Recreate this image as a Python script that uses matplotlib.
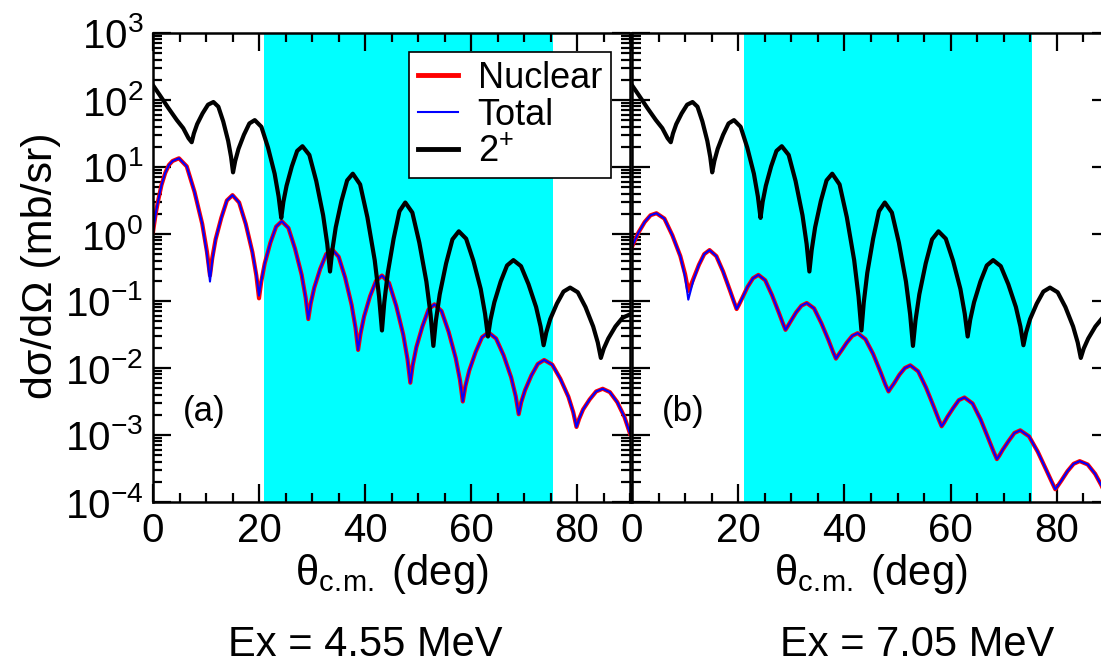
import matplotlib
matplotlib.use('Agg')
import matplotlib.pyplot as plt
from matplotlib.lines import Line2D
from matplotlib.ticker import MultipleLocator, LogLocator, NullFormatter
import numpy as np

# angles in degrees, cross sections stored as log10(dsigma/dOmega [mb/sr])
theta_2plus = [0, 1.3, 2.9, 4.5, 5.7, 6.7, 7.3, 7.71, 8.33, 9.35, 10.38, 11.4,
               12.33, 13.25, 14.18, 14.73, 15.1, 15.51, 16.13, 17.15, 18.18, 19.2,
               20.45, 21.7, 22.95, 23.7, 24.2, 24.6, 25.2, 26.2, 27.2, 28.2,
               29.5, 30.8, 32.1, 32.88, 33.4, 33.83, 34.48, 35.55, 36.63, 37.7,
               39.08, 40.45, 41.83, 42.65, 43.2, 43.64, 44.3, 45.4, 46.5, 47.6,
               48.93, 50.25, 51.58, 52.37, 52.9, 53.38, 54.1, 55.3, 56.5, 57.7,
               59.08, 60.45, 61.83, 62.65, 63.2, 63.68, 64.4, 65.6, 66.8, 68.0,
               69.43, 70.85, 72.28, 73.13, 73.7, 74.2, 74.95, 76.2, 77.45, 78.7,
               80.15, 81.6, 83.05, 83.92, 84.5, 85.05, 85.9, 87.25, 88.6, 90]
log_2plus = [2.22, 2.07, 1.88, 1.70, 1.58, 1.43, 1.37, 1.50, 1.64, 1.80, 1.93, 1.97,
             1.90, 1.68, 1.39, 1.15, 0.92, 1.09, 1.27, 1.48, 1.65, 1.70,
             1.60, 1.29, 0.90, 0.56, 0.24, 0.48, 0.72, 1.01, 1.24, 1.31,
             1.18, 0.79, 0.28, -0.15, -0.56, -0.24, 0.10, 0.49, 0.80, 0.90,
             0.74, 0.25, -0.39, -0.93, -1.44, -1.02, -0.58, -0.07, 0.34, 0.47,
             0.32, -0.13, -0.71, -1.20, -1.67, -1.29, -0.90, -0.44, -0.08, 0.04,
             -0.07, -0.40, -0.82, -1.19, -1.53, -1.28, -1.02, -0.71, -0.47, -0.39,
             -0.48, -0.75, -1.09, -1.38, -1.66, -1.47, -1.27, -1.04, -0.86, -0.80,
             -0.87, -1.09, -1.38, -1.62, -1.85, -1.71, -1.56, -1.38, -1.25, -1.20]

# Ex = 4.55 MeV
theta_a = [0, 0.5, 1.0, 1.6, 2.3, 3.0, 3.7, 4.9, 6.36, 7.83, 9.29, 10.17, 10.75,
           11.18, 11.81, 12.88, 13.94, 15.0, 16.25, 17.5, 18.75, 19.5, 20.0,
           20.43, 21.08, 22.15, 23.23, 24.3, 25.55, 26.8, 28.05, 28.8, 29.3,
           29.75, 30.43, 31.55, 32.68, 33.8, 35.03, 36.25, 37.48, 38.21, 38.7,
           39.15, 39.83, 40.95, 42.08, 43.2, 44.54, 45.88, 47.21, 48.02, 48.55,
           49.0, 49.69, 50.83, 51.96, 53.1, 54.44, 55.78, 57.11, 57.92, 58.45,
           58.94, 59.66, 60.88, 62.09, 63.3, 64.73, 66.15, 67.58, 68.43, 69.0,
           69.48, 70.2, 71.4, 72.6, 73.8, 75.33, 76.85, 78.38, 79.29, 79.9,
           80.4, 81.14, 82.38, 83.61, 84.85, 86.2, 87.6, 88.95, 90]
nuclear_a = [0.03, 0.30, 0.51, 0.73, 0.91, 1.03, 1.09, 1.13, 1.01, 0.63, 0.15, -0.26, -0.62,
             -0.36, -0.08, 0.24, 0.50, 0.58, 0.47, 0.15, -0.27, -0.62, -0.96,
             -0.71, -0.44, -0.13, 0.11, 0.19, 0.09, -0.22, -0.61, -0.95, -1.27,
             -1.04, -0.80, -0.52, -0.30, -0.23, -0.34, -0.65, -1.06, -1.40, -1.73,
             -1.49, -1.23, -0.93, -0.70, -0.62, -0.73, -1.07, -1.50, -1.87, -2.22,
             -1.96, -1.69, -1.38, -1.13, -1.05, -1.15, -1.46, -1.85, -2.18, -2.50,
             -2.27, -2.04, -1.76, -1.54, -1.47, -1.56, -1.81, -2.14, -2.42, -2.69,
             -2.51, -2.33, -2.11, -1.94, -1.88, -1.95, -2.16, -2.43, -2.66, -2.88,
             -2.76, -2.62, -2.47, -2.35, -2.31, -2.36, -2.51, -2.73, -2.98]
total_a = [0.03, 0.30, 0.51, 0.73, 0.91, 1.03, 1.09, 1.13, 1.01, 0.63, 0.15, -0.30, -0.71,
           -0.40, -0.08, 0.24, 0.50, 0.58, 0.47, 0.15, -0.27, -0.61, -0.92,
           -0.70, -0.44, -0.13, 0.11, 0.19, 0.09, -0.22, -0.61, -0.95, -1.27,
           -1.04, -0.80, -0.52, -0.30, -0.23, -0.34, -0.65, -1.06, -1.40, -1.73,
           -1.49, -1.23, -0.93, -0.70, -0.62, -0.73, -1.07, -1.50, -1.87, -2.22,
           -1.96, -1.69, -1.38, -1.13, -1.05, -1.15, -1.46, -1.85, -2.18, -2.50,
           -2.27, -2.04, -1.76, -1.54, -1.47, -1.56, -1.81, -2.14, -2.42, -2.69,
           -2.51, -2.33, -2.11, -1.94, -1.88, -1.95, -2.16, -2.43, -2.66, -2.88,
           -2.76, -2.62, -2.47, -2.35, -2.31, -2.36, -2.51, -2.73, -2.98]

# Ex = 7.05 MeV
theta_b = [0, 1.2, 2.4, 3.5, 4.6, 6.1, 7.6, 9.1, 10.0, 10.6, 11.0, 11.6, 12.6, 13.6, 14.6,
           15.88, 17.15, 18.43, 19.19, 19.7, 20.11, 20.73, 21.75, 22.78, 23.8,
           25.08, 26.35, 27.63, 28.39, 28.9, 29.3, 29.9, 30.9, 31.9, 32.9,
           34.28, 35.65, 37.03, 37.85, 38.4, 38.81, 39.43, 40.45, 41.48, 42.5,
           43.95, 45.4, 46.85, 47.72, 48.3, 48.71, 49.33, 50.35, 51.38, 52.4,
           53.88, 55.35, 56.83, 57.71, 58.3, 58.73, 59.38, 60.45, 61.53, 62.6,
           64.13, 65.65, 67.18, 68.09, 68.7, 69.14, 69.8, 70.9, 72.0, 73.1,
           74.75, 76.4, 78.05, 79.04, 79.7, 80.16, 80.85, 82.0, 83.15, 84.3,
           85.8, 87.2, 88.3, 89.3, 90]
nuclear_b = [-0.19, 0.02, 0.18, 0.28, 0.31, 0.23, -0.02, -0.33, -0.60, -0.85, -0.78, -0.66, -0.46, -0.30, -0.24,
             -0.33, -0.56, -0.84, -1.01, -1.12, -1.06, -0.96, -0.79, -0.66, -0.61,
             -0.69, -0.91, -1.17, -1.33, -1.43, -1.38, -1.30, -1.17, -1.07, -1.03,
             -1.11, -1.33, -1.59, -1.76, -1.86, -1.81, -1.74, -1.62, -1.52, -1.48,
             -1.57, -1.79, -2.07, -2.25, -2.35, -2.30, -2.23, -2.10, -2.00, -1.96,
             -2.05, -2.29, -2.58, -2.76, -2.87, -2.82, -2.73, -2.60, -2.48, -2.44,
             -2.53, -2.77, -3.07, -3.25, -3.36, -3.31, -3.22, -3.09, -2.97, -2.93,
             -3.02, -3.25, -3.53, -3.70, -3.81, -3.76, -3.68, -3.54, -3.43, -3.39,
             -3.44, -3.58, -3.74, -3.90, -4.0]
total_b = [-0.19, 0.02, 0.18, 0.28, 0.31, 0.23, -0.02, -0.33, -0.64, -0.98, -0.86, -0.68, -0.46, -0.30, -0.24,
           -0.33, -0.56, -0.84, -1.01, -1.12, -1.06, -0.96, -0.79, -0.66, -0.61,
           -0.69, -0.91, -1.17, -1.33, -1.43, -1.38, -1.30, -1.17, -1.07, -1.03,
           -1.11, -1.33, -1.59, -1.76, -1.86, -1.81, -1.74, -1.62, -1.52, -1.48,
           -1.57, -1.79, -2.07, -2.25, -2.35, -2.30, -2.23, -2.10, -2.00, -1.96,
           -2.05, -2.29, -2.58, -2.76, -2.87, -2.82, -2.73, -2.60, -2.48, -2.44,
           -2.53, -2.77, -3.07, -3.25, -3.36, -3.31, -3.22, -3.09, -2.97, -2.93,
           -3.02, -3.25, -3.53, -3.70, -3.81, -3.76, -3.68, -3.54, -3.43, -3.39,
           -3.44, -3.58, -3.74, -3.90, -4.0]

window = (21.0, 75.4)   # shaded angular range
panel_tags = ['(a)', '(b)']
energies = ['Ex = 4.55 MeV', 'Ex = 7.05 MeV']

plt.rcParams['font.family'] = ['Liberation Sans', 'DejaVu Sans']
plt.rcParams['mathtext.fontset'] = 'custom'
plt.rcParams['mathtext.rm'] = 'Liberation Sans'
plt.rcParams['mathtext.it'] = 'Liberation Sans:italic'
plt.rcParams['mathtext.default'] = 'regular'
plt.rcParams['axes.unicode_minus'] = False

W, H = 1101, 667
fig = plt.figure(figsize=(W / 100, H / 100), dpi=100)
ax_a = fig.add_axes([153 / W, 165 / H, 477 / W, 469 / H])
ax_b = fig.add_axes([632 / W, 165 / H, 478 / W, 469 / H])


def draw_panel(ax, theta, nuc, tot, tag, show_ylabels):
    ax.axvspan(window[0], window[1], color='#00FFFF', lw=0, zorder=0)
    ax.plot(theta, 10 ** np.array(nuc), color='#FF0000', lw=3.0, zorder=2)
    ax.plot(theta, 10 ** np.array(tot), color='#0000FF', lw=1.5, zorder=3)
    ax.plot(theta_2plus, 10 ** np.array(log_2plus), color='black', lw=3.0, zorder=4)

    ax.set_yscale('log')
    ax.set_xlim(0, 90)
    ax.set_ylim(1e-4, 1e3)
    ax.set_xticks(np.arange(0, 81, 20))
    ax.xaxis.set_minor_locator(MultipleLocator(5))
    ax.yaxis.set_major_locator(LogLocator(base=10, numticks=20))
    ax.yaxis.set_minor_locator(LogLocator(base=10, subs=np.arange(2, 10), numticks=20))
    ax.yaxis.set_minor_formatter(NullFormatter())
    ax.tick_params(which='both', direction='in', top=True, right=True,
                   width=1.6, labelsize=29, pad=7)
    ax.tick_params(which='major', length=13)
    ax.tick_params(which='minor', length=6.5)
    if not show_ylabels:
        ax.tick_params(axis='y', labelleft=False)
    for sp in ax.spines.values():
        sp.set_linewidth(1.8)
        sp.set_zorder(5)

    ax.set_xlabel(r'θ$_{\mathregular{c.\!m.}}$ (deg)', fontsize=30, labelpad=2)
    ax.text(0.063, 0.192, tag, transform=ax.transAxes, fontsize=25,
            ha='left', va='center')


draw_panel(ax_a, theta_a, nuclear_a, total_a, panel_tags[0], True)
draw_panel(ax_b, theta_b, nuclear_b, total_b, panel_tags[1], False)

handles = [Line2D([], [], color='#FF0000', lw=3.5),
           Line2D([], [], color='#0000FF', lw=1.5),
           Line2D([], [], color='black', lw=3.5)]
leg = ax_a.legend(handles, ['Nuclear', 'Total', r'2$^{+}$'], loc='upper right',
                  bbox_to_anchor=(0.96, 0.96), borderaxespad=0, fontsize=26,
                  frameon=True, fancybox=False, framealpha=1, edgecolor='black',
                  handlelength=1.1, handletextpad=0.55, labelspacing=0.05,
                  borderpad=0.25)
leg.get_frame().set_linewidth(1.2)
leg.set_zorder(10)

fig.text(41 / W, 1 - 266 / H, 'dσ/dΩ (mb/sr)', rotation=90, fontsize=31,
         ha='center', va='center')
fig.text(365 / W, 1 - 645 / H, energies[0], fontsize=30, ha='center', va='center')
fig.text(917 / W, 1 - 645 / H, energies[1], fontsize=30, ha='center', va='center')

fig.savefig('out.png', dpi=100)
plt.close(fig)
